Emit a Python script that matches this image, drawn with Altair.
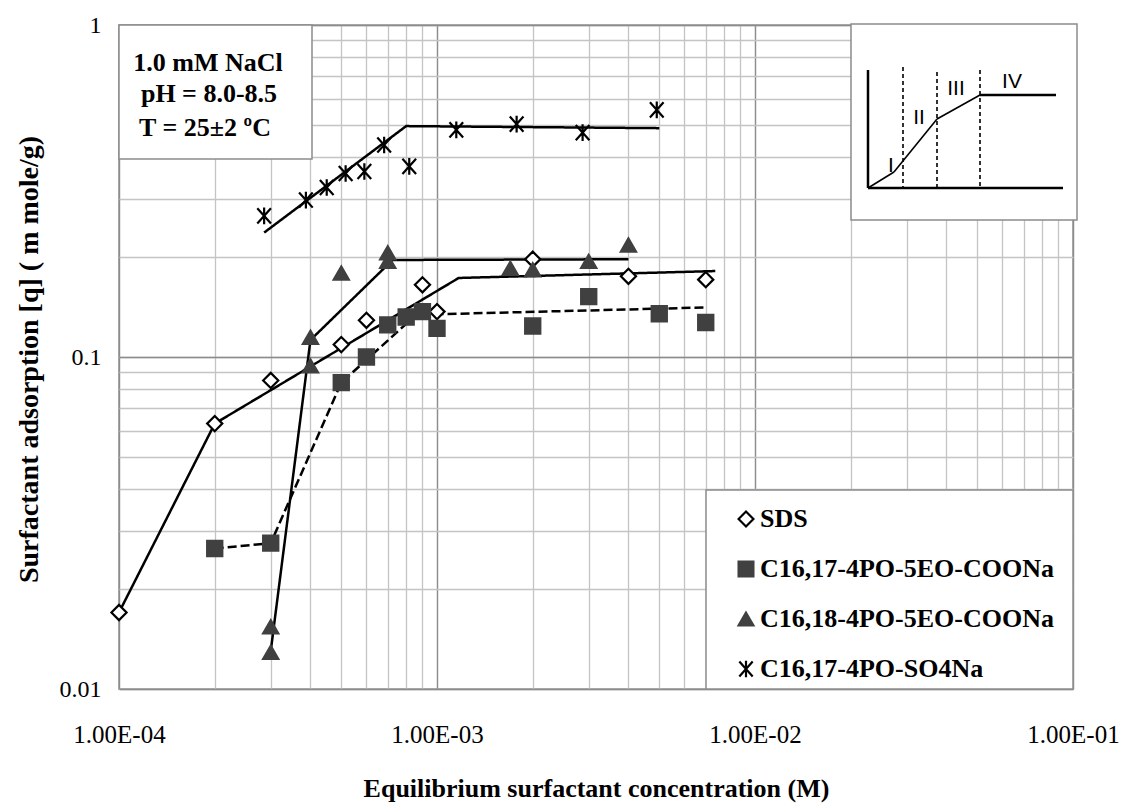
import altair as alt
import pandas as pd

# ---------------- data ----------------
series_names = ["SDS", "C16,17-4PO-5EO-COONa", "C16,18-4PO-5EO-COONa", "C16,17-4PO-SO4Na"]

sds_x = [1.0e-4, 2.0e-4, 3.0e-4, 5.0e-4, 6.0e-4, 9.0e-4, 1.0e-3, 2.0e-3, 4.0e-3, 7.0e-3]
sds_y = [0.017, 0.063, 0.085, 0.109, 0.129, 0.165, 0.137, 0.197, 0.175, 0.171]

c1617_x = [2e-4, 3e-4, 5e-4, 6e-4, 7e-4, 8e-4, 9e-4, 1e-3, 2e-3, 3e-3, 5e-3, 7e-3]
c1617_y = [0.0265, 0.0275, 0.0837, 0.100, 0.125, 0.132, 0.137, 0.122, 0.124, 0.152, 0.135, 0.127]

c1618_x = [3e-4, 3e-4, 4e-4, 4e-4, 5e-4, 7e-4, 7e-4, 1.7e-3, 2e-3, 3e-3, 4e-3]
c1618_y = [0.0154, 0.0129, 0.1146, 0.0940, 0.179, 0.206, 0.194, 0.185, 0.183, 0.194, 0.2175]

so4_x = [2.86e-4, 3.87e-4, 4.5e-4, 5.16e-4, 5.91e-4, 6.82e-4, 8.18e-4, 1.15e-3, 1.78e-3, 2.87e-3, 4.91e-3]
so4_y = [0.266, 0.297, 0.324, 0.357, 0.362, 0.435, 0.375, 0.483, 0.503, 0.474, 0.555]

# fitted trend lines (break points)
sds_fit_x = [1.0e-4, 2.0e-4, 1.17e-3, 7.5e-3]
sds_fit_y = [0.017, 0.063, 0.173, 0.1815]
c1617_fit_x = [2e-4, 3e-4, 5e-4, 8.6e-4, 7e-3]
c1617_fit_y = [0.0265, 0.0275, 0.0837, 0.134, 0.141]
c1618_fit_x = [3e-4, 4e-4, 7.25e-4, 4e-3]
c1618_fit_y = [0.013, 0.1125, 0.196, 0.197]
so4_fit_x = [2.86e-4, 8.0e-4, 5.0e-3]
so4_fit_y = [0.237, 0.496, 0.489]
fit_styles = ["solid", "dash", "solid", "solid"]

# axis tick values
major_x = [1e-4, 1e-3, 1e-2, 1e-1]
major_y = [0.01, 0.1, 1.0]
minor_x = [m * 10.0 ** e for e in (-4, -3, -2) for m in range(1, 10)] + [0.1]
minor_y = [m * 10.0 ** e for e in (-2, -1) for m in range(1, 10)] + [1.0]

# ---------------- tables ----------------
pts_rows = []
for name, xs, ys in zip(series_names, [sds_x, c1617_x, c1618_x, so4_x], [sds_y, c1617_y, c1618_y, so4_y]):
    for xv, yv in zip(xs, ys):
        pts_rows.append({"series": name, "x": xv, "y": yv})
pts = pd.DataFrame(pts_rows)

fit_rows = []
for name, st, xs, ys in zip(series_names, fit_styles,
                            [sds_fit_x, c1617_fit_x, c1618_fit_x, so4_fit_x],
                            [sds_fit_y, c1617_fit_y, c1618_fit_y, so4_fit_y]):
    for i, (xv, yv) in enumerate(zip(xs, ys)):
        fit_rows.append({"series": name, "style": st, "i": i, "x": xv, "y": yv})
fits = pd.DataFrame(fit_rows)

dummy = pd.DataFrame({"x": [1e-4], "y": [0.01]})
one = pd.DataFrame({"a": [0]})

W, H = 954, 664
FONT = "Liberation Serif"
xscale = alt.Scale(type="log", domain=[1e-4, 1e-1], nice=False)
yscale = alt.Scale(type="log", domain=[0.01, 1.0], nice=False)

# ---------------- grid / axes ----------------
minor = alt.Chart(dummy).mark_point(opacity=0).encode(
    x=alt.X("x:Q", scale=xscale, title=None,
            axis=alt.Axis(values=minor_x, grid=True, gridColor="#c4c4c4", gridWidth=1.3,
                          labels=False, ticks=False, domain=False, orient="bottom")),
    y=alt.Y("y:Q", scale=yscale, title=None,
            axis=alt.Axis(values=minor_y, grid=True, gridColor="#c4c4c4", gridWidth=1.3,
                          labels=False, ticks=False, domain=False, orient="left")),
)

major = alt.Chart(dummy).mark_point(opacity=0).encode(
    x=alt.X("x:Q", scale=xscale, title="Equilibrium surfactant concentration (M)",
            axis=alt.Axis(values=major_x, grid=True, gridColor="#8c8c8c", gridWidth=1.3,
                          labelExpr="'1.00E-0' + round(-log(datum.value)/LN10)",
                          ticks=False, tickSize=0, domain=False, orient="bottom",
                          labelFlush=False, labelOverlap=False, labelPadding=33,
                          labelFont=FONT, labelFontSize=25, labelColor="black",
                          titleFont=FONT, titleFontSize=26, titleFontWeight="bold",
                          titleColor="black", titleY=107, titleBaseline="alphabetic")),
    y=alt.Y("y:Q", scale=yscale, title="Surfactant adsorption [q] ( m mole/g)",
            axis=alt.Axis(values=major_y, grid=True, gridColor="#8c8c8c", gridWidth=1.3,
                          labelExpr="datum.value >= 0.5 ? '1' : (datum.value >= 0.05 ? '0.1' : '0.01')",
                          ticks=False, tickSize=0, domain=False, orient="left",
                          labelOverlap=False, labelPadding=18,
                          labelFont=FONT, labelFontSize=24, labelColor="black",
                          titleFont=FONT, titleFontSize=28, titleFontWeight="bold",
                          titleColor="black", titleX=-76, titleY=334, titleAngle=270,
                          titleBaseline="bottom")),
)

# ---------------- boxes ----------------
def box(x1, x2, y1, y2):
    return alt.Chart(one).mark_rect(fill="white", stroke="#8c8c8c", strokeWidth=1.5).encode(
        x=alt.value(x1), x2=alt.value(x2), y=alt.value(y1), y2=alt.value(y2))

note_box = box(0, 193, 0, 134)
inset_box = box(732, 958, -1, 195)
legend_box = box(587, 954, 465, 664)

def label(txt, x, y, size=26, font=FONT, weight="bold"):
    return alt.Chart(one).mark_text(text=txt, font=font, fontSize=size, fontWeight=weight,
                                    align="center", baseline="alphabetic", color="black").encode(
        x=alt.value(x), y=alt.value(y))

notes = [
    label("1.0 mM NaCl", 89, 46),
    label("pH = 8.0-8.5", 90, 77),
    label("T = 25±2 ºC", 86, 111),
]

# inset schematic (pixel geometry of the decorative diagram)
inset_segments = [
    # x1, y1, x2, y2, width, dashed
    (749, 45, 749, 163, 2.5, False),
    (749, 163, 944, 163, 2.5, False),
    (749, 163, 775, 147, 1.6, False),
    (775, 147, 818, 94, 1.6, False),
    (818, 94, 861, 70, 1.6, False),
    (861, 70, 937, 70, 2.5, False),
    (784, 42, 784, 163, 1.6, True),
    (818, 47, 818, 163, 1.6, True),
    (861, 45, 861, 163, 1.6, True),
]
inset_layers = []
for x1, y1, x2, y2, w, dashed in inset_segments:
    kw = {"color": "black", "strokeWidth": w}
    if dashed:
        kw["strokeDash"] = [4, 3]
    inset_layers.append(alt.Chart(one).mark_rule(**kw).encode(
        x=alt.value(x1), y=alt.value(y1), x2=alt.value(x2), y2=alt.value(y2)))
inset_texts = [
    label("I", 772, 147, size=21, font="Liberation Sans", weight="normal"),
    label("II", 800, 99, size=21, font="Liberation Sans", weight="normal"),
    label("III", 837, 70, size=21, font="Liberation Sans", weight="normal"),
    label("IV", 893, 63, size=21, font="Liberation Sans", weight="normal"),
]

# ---------------- data marks ----------------
lines = alt.Chart(fits).mark_line(color="black", strokeWidth=2.5).encode(
    x=alt.X("x:Q", scale=xscale, axis=None),
    y=alt.Y("y:Q", scale=yscale, axis=None),
    detail="series:N",
    order="i:Q",
    strokeDash=alt.StrokeDash("style:N", scale=alt.Scale(domain=["solid", "dash"], range=[[1, 0], [9, 4]]),
                              legend=None),
)

asterisk = "M-0.9,-1L0.9,1M-0.9,1L0.9,-1M0,-1.1L0,1.1"
leg = alt.Legend(orient="none", legendX=614, legendY=481, title=None,
                 labelFont=FONT, labelFontSize=26, labelFontWeight="bold", labelColor="black",
                 labelLimit=400, rowPadding=24, symbolSize=220, symbolStrokeWidth=2.2,
                 padding=0, labelOffset=1)

points = alt.Chart(pts).mark_point(filled=True, size=230, strokeWidth=2.2, opacity=1).encode(
    x=alt.X("x:Q", scale=xscale, axis=None),
    y=alt.Y("y:Q", scale=yscale, axis=None),
    shape=alt.Shape("series:N", scale=alt.Scale(domain=series_names,
                                                range=["diamond", "square", "triangle-up", asterisk]), legend=leg),
    fill=alt.Fill("series:N", scale=alt.Scale(domain=series_names,
                                              range=["white", "#404040", "#404040", "transparent"]), legend=leg),
    stroke=alt.Stroke("series:N", scale=alt.Scale(domain=series_names,
                                                  range=["black", "#404040", "#404040", "black"]), legend=leg),
)

chart = alt.layer(
    minor, major, note_box, inset_box, legend_box, *inset_layers, *inset_texts, *notes, lines, points
).resolve_axis(x="independent", y="independent").properties(
    width=W, height=H,
    autosize=alt.AutoSizeParams(type="none"),
    padding={"left": 119, "top": 25, "right": 49, "bottom": 114},
    background="white",
).configure_view(stroke="#8c8c8c", strokeWidth=1.5)

chart.save("out.html", embed_options={"renderer": "svg", "actions": False})
